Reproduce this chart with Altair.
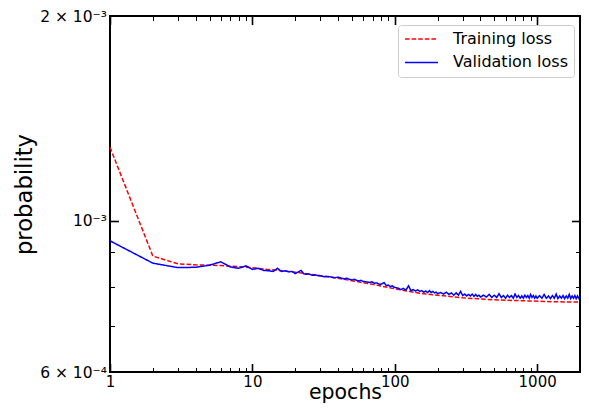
import altair as alt
import pandas as pd

# ---------------- data ----------------
train_epochs = [1, 2, 3, 4, 5, 6, 7, 8, 10, 12, 15, 20, 30, 40, 50, 70, 100, 150,
                200, 300, 500, 870, 1300, 2000]
train_loss = [1.283e-3, 8.88e-4, 8.65e-4, 8.62e-4, 8.61e-4, 8.60e-4, 8.58e-4, 8.57e-4,
              8.54e-4, 8.50e-4, 8.46e-4, 8.41e-4, 8.31e-4, 8.24e-4, 8.17e-4, 8.07e-4,
              7.95e-4, 7.83e-4, 7.78e-4, 7.71e-4, 7.66e-4, 7.63e-4, 7.61e-4, 7.60e-4]

val_epochs = [1, 2, 3, 4, 5, 6, 7, 8, 9, 10, 11, 12, 13, 14, 15, 16, 17, 18, 19, 20,
              21, 22, 23, 24, 25, 26, 27, 28, 29, 30,
              32, 34, 36, 38, 40, 42, 44, 46, 48, 50, 52, 54, 56, 58, 60,
              63, 66, 69, 72, 75, 78, 81, 84, 87, 90, 93, 96, 99,
              105, 110, 115, 120, 125, 130, 135, 140, 145, 150, 155, 160, 165, 170,
              175, 180, 185, 190, 195, 200,
              210, 220, 230, 240, 250, 260, 270, 280, 290, 300, 310, 320, 330, 340,
              350, 360, 370, 380, 390, 400,
              420, 440, 460, 480, 500, 520, 540, 560, 580, 600, 620, 640, 660, 680,
              700, 720, 740, 760, 780, 800, 820, 840, 860, 880, 900, 920, 940, 960,
              980, 1000,
              1040, 1080, 1120, 1160, 1200, 1240, 1280, 1320, 1360, 1400, 1440, 1480,
              1520, 1560, 1600, 1640, 1680, 1720, 1760, 1800, 1840, 1880, 1920, 1960,
              2000]
val_loss = [9.35e-4, 8.67e-4, 8.54e-4, 8.55e-4, 8.61e-4, 8.71e-4, 8.56e-4, 8.52e-4,
            8.59e-4, 8.49e-4, 8.52e-4, 8.46e-4, 8.45e-4, 8.43e-4, 8.52e-4, 8.43e-4,
            8.45e-4, 8.42e-4, 8.43e-4, 8.37e-4, 8.42e-4, 8.46e-4, 8.36e-4, 8.35e-4,
            8.36e-4, 8.33e-4, 8.32e-4, 8.33e-4, 8.31e-4, 8.31e-4,
            8.28e-4, 8.29e-4, 8.27e-4, 8.25e-4, 8.27e-4, 8.24e-4, 8.22e-4, 8.24e-4,
            8.21e-4, 8.19e-4, 8.21e-4, 8.18e-4, 8.16e-4, 8.18e-4, 8.15e-4,
            8.14e-4, 8.12e-4, 8.14e-4, 8.10e-4, 8.11e-4, 8.07e-4, 8.08e-4, 8.12e-4,
            8.04e-4, 8.05e-4, 8.01e-4, 8.03e-4, 7.99e-4,
            7.97e-4, 7.93e-4, 7.96e-4, 7.92e-4, 8.03e-4, 7.90e-4, 7.93e-4, 7.89e-4,
            7.92e-4, 7.88e-4, 7.90e-4, 7.86e-4, 7.89e-4, 7.85e-4, 7.90e-4, 7.85e-4,
            7.88e-4, 7.84e-4, 7.86e-4, 7.82e-4,
            7.85e-4, 7.81e-4, 7.86e-4, 7.80e-4, 7.84e-4, 7.78e-4, 7.84e-4, 7.78e-4,
            7.88e-4, 7.77e-4, 7.81e-4, 7.76e-4, 7.80e-4, 7.76e-4, 7.81e-4, 7.75e-4,
            7.80e-4, 7.75e-4, 7.78e-4, 7.73e-4,
            7.78e-4, 7.73e-4, 7.80e-4, 7.72e-4, 7.78e-4, 7.72e-4, 7.82e-4, 7.72e-4,
            7.77e-4, 7.70e-4, 7.78e-4, 7.72e-4, 7.77e-4, 7.70e-4, 7.81e-4, 7.72e-4,
            7.77e-4, 7.70e-4, 7.76e-4, 7.70e-4, 7.78e-4, 7.72e-4, 7.77e-4, 7.70e-4,
            7.80e-4, 7.72e-4, 7.77e-4, 7.70e-4, 7.76e-4, 7.70e-4,
            7.77e-4, 7.70e-4, 7.80e-4, 7.70e-4, 7.76e-4, 7.69e-4, 7.77e-4, 7.70e-4,
            7.81e-4, 7.69e-4, 7.76e-4, 7.70e-4, 7.77e-4, 7.69e-4, 7.76e-4, 7.70e-4,
            7.80e-4, 7.69e-4, 7.76e-4, 7.70e-4, 7.77e-4, 7.69e-4, 7.76e-4, 7.70e-4,
            7.75e-4]

series_names = ["Training loss", "Validation loss"]
series_colors = ["#ff0000", "#0000ff"]
series_dashes = [[4.6, 2.0], [1, 0]]

x_major = [1, 10, 100, 1000]
x_minor = [2, 3, 4, 5, 6, 7, 8, 9, 20, 30, 40, 50, 60, 70, 80, 90,
           200, 300, 400, 500, 600, 700, 800, 900]
y_major = [1e-3]
y_minor = [7e-4, 8e-4, 9e-4]
y_label_values = [6e-4, 1e-3, 2e-3]
y_label_texts = ["6 × 10⁻⁴", "10⁻³", "2 × 10⁻³"]

# ---------------- table ----------------
df = pd.concat([
    pd.DataFrame({"epoch": train_epochs, "loss": train_loss, "series": series_names[0]}),
    pd.DataFrame({"epoch": val_epochs, "loss": val_loss, "series": series_names[1]}),
], ignore_index=True)

W, H = 470, 356
FONT = "DejaVu Sans"

xscale = alt.Scale(type="log", domain=[1, 2000], nice=False)
yscale = alt.Scale(type="log", domain=[6e-4, 2e-3], nice=False)

# label expression for y ticks
expr = "'" + y_label_texts[-1] + "'"
for v, t in reversed(list(zip(y_label_values[:-1], y_label_texts[:-1]))):
    expr = f"datum.value < {v * 1.2} ? '{t}' : " + expr


def tick_axis(values, orient, offset, size, width):
    return alt.Axis(values=values, orient=orient, offset=offset, tickSize=size,
                    tickWidth=width, tickColor="black", ticks=True, labels=False,
                    domain=False, grid=False, title=None)


x_label_axis = alt.Axis(values=x_major, orient="bottom", format="d", ticks=False,
                        tickSize=0, domain=False, grid=False, labelFont=FONT,
                        labelFontSize=15, labelColor="black", labelPadding=2,
                        labelFlush=False, labelOverlap=False, labelBound=False,
                        title="epochs", titleFont=FONT, titleFontSize=20.5,
                        titleFontWeight="normal", titleColor="black", titleY=26,
                        titleBaseline="alphabetic")
y_label_axis = alt.Axis(values=y_label_values, orient="left", labelExpr=expr,
                        ticks=False, tickSize=0, domain=False, grid=False,
                        labelFont=FONT, labelFontSize=15.5, labelColor="black",
                        labelPadding=3.5, labelFlush=False, labelOverlap=False,
                        labelBound=False, labelBaseline="middle",
                        title="probability", titleFont=FONT, titleFontSize=22.7,
                        titleFontWeight="normal", titleColor="black", titleX=-79,
                        titleBaseline="alphabetic")

legend = alt.Legend(title=None, orient="none", legendX=288, legendY=9,
                    symbolType="stroke", symbolSize=1089, symbolStrokeWidth=1.5,
                    clipHeight=16, rowPadding=7.4, labelOffset=14, labelFont=FONT,
                    labelFontSize=16, labelColor="black", padding=6,
                    strokeColor="#cccccc", fillColor="white", cornerRadius=3)

lines = alt.Chart().mark_line(strokeWidth=1.5).encode(
    x=alt.X("epoch:Q", scale=xscale, axis=x_label_axis),
    y=alt.Y("loss:Q", scale=yscale, axis=y_label_axis),
    color=alt.Color("series:N", scale=alt.Scale(domain=series_names, range=series_colors),
                    legend=legend),
    strokeDash=alt.StrokeDash("series:N",
                              scale=alt.Scale(domain=series_names, range=series_dashes),
                              legend=legend),
)


def ghost(xaxis, yaxis):
    return alt.Chart().mark_point(opacity=0).encode(
        x=alt.X("epoch:Q", scale=xscale, axis=xaxis),
        y=alt.Y("loss:Q", scale=yscale, axis=yaxis),
    )


MAJ, MIN = 8.5, 4.5
layers = [
    lines,
    ghost(tick_axis(x_major, "top", -H, MAJ, 1.6), tick_axis(y_major, "right", -W, MAJ, 1.6)),
    ghost(tick_axis(x_minor, "top", -H, MIN, 1.0), tick_axis(y_minor, "right", -W, MIN, 1.0)),
    ghost(tick_axis(x_major, "bottom", -H, MAJ, 1.6), tick_axis(y_major, "left", -W, MAJ, 1.6)),
    ghost(tick_axis(x_minor, "bottom", -H, MIN, 1.0), tick_axis(y_minor, "left", -W, MIN, 1.0)),
]

chart = alt.layer(*layers, data=df).resolve_axis(
    x="independent", y="independent"
).properties(
    width=W, height=H,
    autosize=alt.AutoSizeParams(type="none"),
    padding={"left": 102, "top": 8, "right": 1, "bottom": 32},
).configure(
    background="white", font=FONT
).configure_view(
    stroke="black", strokeWidth=2
)

chart.save("out.html", embed_options={"renderer": "svg", "actions": False})
